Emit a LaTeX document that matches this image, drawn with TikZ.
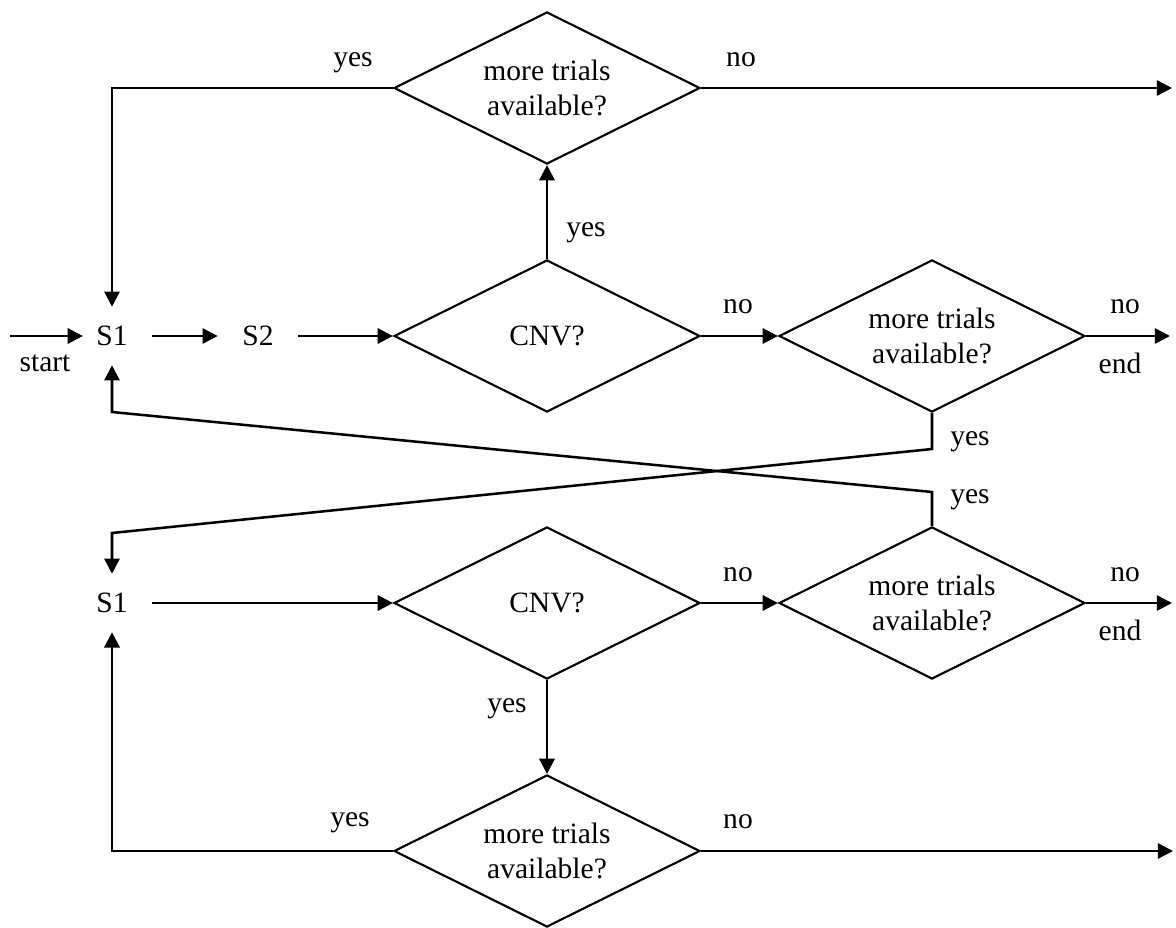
\documentclass[tikz,border=0pt]{standalone}
\usepackage{fontspec}
\setmainfont{Liberation Serif}
\usetikzlibrary{arrows.meta, shapes.geometric}

\tikzset{
    decision/.style={draw, diamond, aspect=2, line width=1.5pt, inner sep=0pt,
        minimum width=7.65cm, minimum height=3.8cm, align=center},
    state/.style={inner sep=0pt, minimum width=2cm, minimum height=1.45cm},
    flow/.style={line width=1.8pt, -{Triangle[length=0.38cm, width=0.38cm]}},
}

\begin{document}
\begin{tikzpicture}[x=0.025cm, y=-0.025cm, font=\fontsize{21}{24.5}\selectfont]
    \useasboundingbox (0,0) rectangle (1176,927);

    % Decisions
    \node[decision] (trialtop) at (547,88) {more trials\\available?};
    \node[decision] (cnva) at (547,336) {CNV?};
    \node[decision] (trialsa) at (932,336) {more trials\\available?};
    \node[decision] (cnvb) at (547,603) {CNV?};
    \node[decision] (trialsb) at (932,603) {more trials\\available?};
    \node[decision] (trialbot) at (547,851) {more trials\\available?};

    % States
    \node[state] (s1a) at (112,336) {S1};
    \node[state] (s2) at (258,336) {S2};
    \node[state] (s1b) at (112,603) {S1};

    % Free ends and bends
    \coordinate (startpt) at (10,336);
    \coordinate (outtop) at (1172,88);
    \coordinate (outa) at (1170,336);
    \coordinate (outb) at (1172,603);
    \coordinate (outbot) at (1173,851);
    \coordinate (yesa) at (932,449);
    \coordinate (bendb) at (112,533);
    \coordinate (yesb) at (932,492);
    \coordinate (benda) at (112,412);

    % Upper row
    \draw[flow] (startpt) -- ([xshift=0.28cm]s1a.west);
    \draw[flow] (s1a.east) -- (s2.west);
    \draw[flow] (s2.east) -- (cnva.west);
    \draw[flow] (cnva.east) -- (trialsa.west);
    \draw[flow] (trialsa.east) -- (outa);
    \draw[flow] (cnva.north) -- (trialtop.south);
    \draw[flow] (trialtop.west) -| (s1a.north);
    \draw[flow] (trialtop.east) -- (outtop);

    % Crossing returns
    \draw[flow] (trialsa.south) -- (yesa) -- (bendb) -- (s1b.north);
    \draw[flow] (trialsb.north) -- (yesb) -- (benda) -- (s1a.south);

    % Lower row
    \draw[flow] (s1b.east) -- (cnvb.west);
    \draw[flow] (cnvb.east) -- (trialsb.west);
    \draw[flow] (trialsb.east) -- (outb);
    \draw[flow] (cnvb.south) -- (trialbot.north);
    \draw[flow] (trialbot.west) -| (s1b.south);
    \draw[flow] (trialbot.east) -- (outbot);

    % Labels
    \node (lstart) at (45,363) {start};
    \node (lyestop) at (353,63) {yes};
    \node (lnotop) at (741,60) {no};
    \node (lyescnva) at (586,233) {yes};
    \node (lnocnva) at (738,307) {no};
    \node (lnoa) at (1125,307) {no};
    \node (lenda) at (1120,363) {end};
    \node (lyesa) at (970,442) {yes};
    \node (lyesb) at (970,500) {yes};
    \node (lnocnvb) at (738,575) {no};
    \node (lnob) at (1125,575) {no};
    \node (lendb) at (1120,630) {end};
    \node (lyescnvb) at (507,709) {yes};
    \node (lyesbot) at (350,823) {yes};
    \node (lnobot) at (738,822) {no};
\end{tikzpicture}
\end{document}
